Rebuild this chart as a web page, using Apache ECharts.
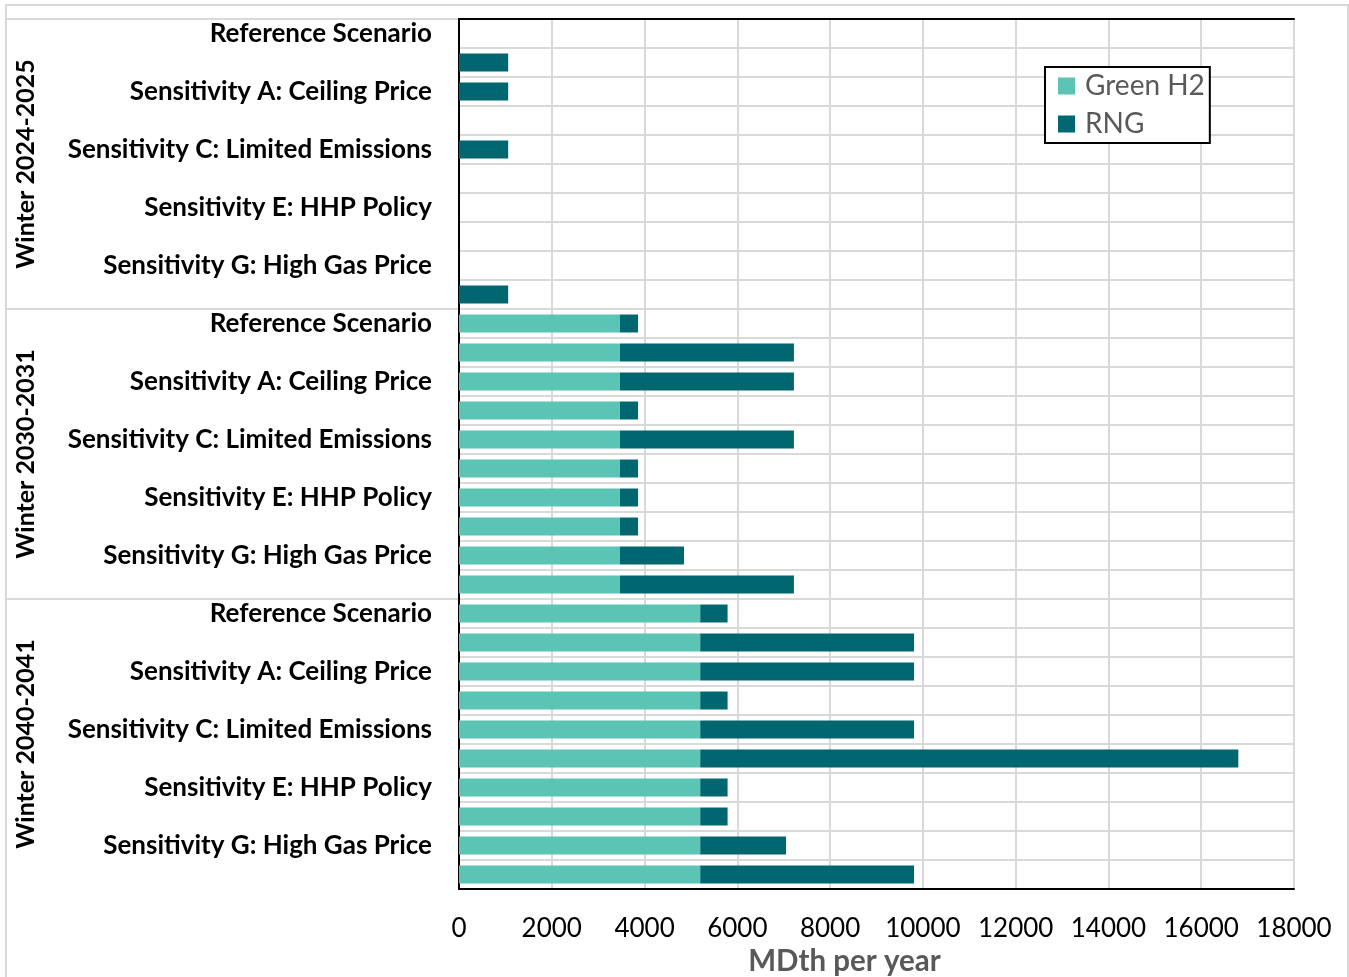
<!DOCTYPE html>
<html>
<head>
<meta charset="utf-8">
<script src="https://cdn.jsdelivr.net/npm/echarts@6/dist/echarts.min.js"></script>
<style>
  html, body { margin: 0; padding: 0; background: #fff; }
  #chart { position: absolute; left: 0; top: 0; width: 1349px; height: 977px; }
  #frame { position: absolute; left: 5px; top: 4px; width: 1340px; height: 980px;
           border: 2px solid #D9D9D9; pointer-events: none; }
</style>
</head>
<body>
<div id="chart"></div>
<div id="frame"></div>
<script>
// Winter periods (outer category level)
const periods = ['Winter 2024-2025', 'Winter 2030-2031', 'Winter 2040-2041'];
// Scenario rows inside each period; every other row carries a printed label
const scenarioLabels = [
  'Reference Scenario', '',
  'Sensitivity A: Ceiling Price', '',
  'Sensitivity C: Limited Emissions', '',
  'Sensitivity E: HHP Policy', '',
  'Sensitivity G: High Gas Price', ''
];
// Green hydrogen volumes, MDth per year (10 rows per period)
const greenH2_2024 = [0, 0, 0, 0, 0, 0, 0, 0, 0, 0];
const greenH2_2030 = [3470, 3470, 3470, 3470, 3470, 3470, 3470, 3470, 3470, 3470];
const greenH2_2040 = [5200, 5200, 5200, 5200, 5200, 5200, 5200, 5200, 5200, 5200];
// Renewable natural gas volumes, MDth per year
const rng_2024 = [0, 1060, 1060, 0, 1060, 0, 0, 0, 0, 1060];
const rng_2030 = [390, 3750, 3750, 390, 3750, 390, 390, 390, 1380, 3750];
const rng_2040 = [590, 4610, 4610, 590, 4610, 11600, 590, 590, 1850, 4610];
// Value axis ticks
const xMin = 0, xMax = 18000, xStep = 2000;

const rowKeys = [];
const rowLabels = [];
periods.forEach(p => scenarioLabels.forEach((s, i) => {
  rowKeys.push(p + ' / ' + i);
  rowLabels.push(s);
}));
const greenH2 = [].concat(greenH2_2024, greenH2_2030, greenH2_2040);
const rng = [].concat(rng_2024, rng_2030, rng_2040);

const FONT = 'Lato, "Noto Sans", sans-serif';
const GRIDLINE = { color: '#D9D9D9', width: 2 };

const chart = echarts.init(document.getElementById('chart'), null, { renderer: 'canvas' });
chart.setOption({
  animation: false,
  backgroundColor: '#fff',
  textStyle: { fontFamily: FONT },
  grid: [
    { left: 459, right: 55, top: 19, bottom: 88, containLabel: false, outerBoundsMode: 'none' },
    { left: 6, top: 19, width: 453, bottom: 88, containLabel: false, outerBoundsMode: 'none' }
  ],
  legend: {
    orient: 'vertical',
    left: 1045, top: 67,
    padding: [5, 5, 5, 13],
    itemWidth: 17, itemHeight: 17, itemGap: 10,
    icon: 'rect',
    backgroundColor: '#fff',
    borderColor: '#000', borderWidth: 2,
    textStyle: { fontFamily: FONT, fontSize: 28, color: '#595959', lineHeight: 27, padding: [0, 0, 0, 5] },
    data: ['Green H2', 'RNG']
  },
  xAxis: [
    {
      type: 'value', gridIndex: 0, position: 'bottom',
      min: xMin, max: xMax, interval: xStep,
      axisLine: { show: true, lineStyle: { color: '#000', width: 2 } },
      axisTick: { show: false },
      axisLabel: { fontFamily: FONT, fontSize: 26, color: '#000', margin: 27, formatter: v => String(v) },
      splitLine: { show: true, lineStyle: GRIDLINE },
      name: 'MDth per year', nameLocation: 'middle', nameGap: 51,
      nameTextStyle: {
        fontFamily: FONT, fontSize: 29.5, fontWeight: 'bold', color: '#595959',
        padding: [0, 64, 0, 0]
      }
    },
    {
      type: 'value', gridIndex: 0, position: 'top',
      min: xMin, max: xMax, interval: xStep,
      axisLine: { show: true, lineStyle: { color: '#000', width: 2 } },
      axisTick: { show: false }, axisLabel: { show: false }, splitLine: { show: false }
    },
    { type: 'value', gridIndex: 1, show: false }
  ],
  yAxis: [
    {
      type: 'category', gridIndex: 0, position: 'left', inverse: true,
      data: rowKeys,
      axisLine: { show: true, lineStyle: { color: '#A6A6A6', width: 2 } },
      axisTick: { show: false },
      splitLine: { show: true, interval: 0, lineStyle: GRIDLINE },
      axisLabel: {
        interval: 0, margin: 27,
        fontFamily: FONT, fontSize: 26, fontWeight: 'bold', color: '#000',
        formatter: (v, i) => rowLabels[i]
      }
    },
    {
      type: 'category', gridIndex: 0, position: 'right', inverse: true,
      data: rowKeys,
      axisLine: { show: true, lineStyle: { color: '#000', width: 2 } },
      axisTick: { show: false }, axisLabel: { show: false }, splitLine: { show: false }
    },
    {
      type: 'category', gridIndex: 1, position: 'left', inverse: true,
      data: periods,
      axisLine: { show: false }, axisTick: { show: false },
      splitLine: { show: true, interval: 0, showMinLine: true, showMaxLine: false, lineStyle: GRIDLINE },
      axisLabel: {
        inside: true, rotate: 90, margin: 7,
        fontFamily: FONT, fontSize: 25, fontWeight: 'bold', color: '#000'
      }
    }
  ],
  series: [
    {
      name: 'Green H2', type: 'bar', stack: 'total',
      xAxisIndex: 0, yAxisIndex: 0,
      barCategoryGap: '38%',
      itemStyle: { color: '#5BC4B5' },
      data: greenH2
    },
    {
      name: 'RNG', type: 'bar', stack: 'total',
      xAxisIndex: 0, yAxisIndex: 0,
      barCategoryGap: '38%',
      itemStyle: { color: '#006770' },
      data: rng
    }
  ]
});
</script>
</body>
</html>
